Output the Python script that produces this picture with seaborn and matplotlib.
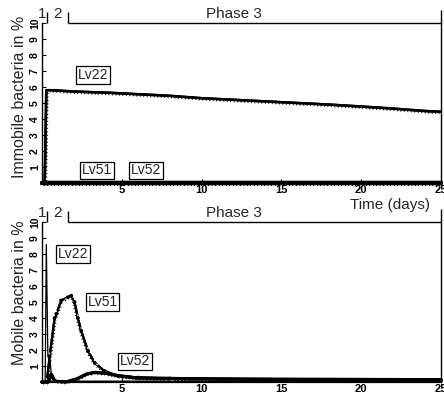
import matplotlib
matplotlib.use("Agg")
import matplotlib.pyplot as plt
import matplotlib.patheffects as pe
import seaborn as sns
import pandas as pd

# ---------------- data ----------------
# Top panel: immobile bacteria (%)
t_imm_22 = [0, 0.17, 0.27, 0.5, 1.0, 1.4, 2, 3, 4, 5, 6, 7, 8, 10, 12, 14, 16, 18, 20, 22, 24, 25]
imm_22 = [0, 0, 5.8, 5.8, 5.78, 5.75, 5.72, 5.68, 5.65, 5.6, 5.55, 5.5, 5.45, 5.3, 5.2, 5.1, 5.0, 4.9, 4.78, 4.65, 4.5, 4.45]
t_imm_51 = [0, 5, 10, 15, 20, 25]
imm_51 = [0, 0, 0, 0, 0, 0]
t_imm_52 = [0, 5, 10, 15, 20, 25]
imm_52 = [0, 0, 0, 0, 0, 0]

# Bottom panel: mobile bacteria (%)
t_mob_22 = [0, 0.2, 0.27, 0.37, 0.5, 0.6, 0.8, 1.5, 5, 10, 25]
mob_22 = [0, 0, 8.6, 1.5, 1.4, 0.3, 0.1, 0.05, 0.05, 0.05, 0.05]
t_mob_51 = [0, 0.3, 0.48, 0.79, 0.9, 1.2, 1.63, 1.83, 2.04, 2.25, 2.46, 2.88, 3.3, 3.9, 4.75, 6, 8, 10, 15, 20, 25]
mob_51 = [0, 0, 1.6, 4.0, 4.25, 5.1, 5.3, 5.4, 5.0, 4.0, 3.2, 1.95, 1.2, 0.7, 0.38, 0.28, 0.22, 0.2, 0.15, 0.12, 0.1]
t_mob_52 = [0, 0.4, 0.58, 0.8, 1.5, 2.2, 2.8, 3.3, 4.0, 4.75, 6, 10, 15, 25]
mob_52 = [0, 0, 0.5, 0.05, 0.0, 0.2, 0.5, 0.6, 0.55, 0.4, 0.25, 0.2, 0.17, 0.15]

phase_bounds = [0.33, 1.65]
phase_label_x = [0.0, 0.95]
phase_labels = ["1", "2"]
xticks = [5, 10, 15, 20, 25]
xtick_labels = ["5", "10", "15", "20", "25"]
yticks = [1, 2, 3, 4, 5, 6, 7, 8, 9, 10]
ytick_labels = ["1", "2", "3", "4", "5", "6", "7", "8", "9", "10"]

# ---------------- plotting ----------------
sns.set_theme(style="white")
plt.rcParams["font.family"] = ["Liberation Sans", "DejaVu Sans"]

fig = plt.figure(figsize=(4.44, 3.93), dpi=100)
ax_top = fig.add_axes([0.0946, 0.5344, 0.8984, 0.4071])
ax_bot = fig.add_axes([0.0946, 0.028, 0.8984, 0.407])

ticked = [pe.withTickedStroke(angle=-90, spacing=2.5, length=0.6, linewidth=0.7)]


def draw(ax, t, y, lw, ticks=True, marker=None):
    df = pd.DataFrame({"t": t, "v": y})
    sns.lineplot(data=df, x="t", y="v", ax=ax, color="black", lw=lw,
                 estimator=None, sort=False, marker=marker, markersize=2.5,
                 markeredgewidth=0)
    line = ax.lines[-1]
    if ticks:
        line.set_path_effects(ticked + [pe.Normal()])
    line.set_clip_on(False)


# top panel
draw(ax_top, t_imm_22, imm_22, 1.8)
draw(ax_top, t_imm_51, imm_51, 3.0)
draw(ax_top, t_imm_52, imm_52, 3.0)

# bottom panel
draw(ax_bot, t_mob_22, mob_22, 0.9, ticks=False)
draw(ax_bot, t_mob_51, mob_51, 1.6, marker="o")
draw(ax_bot, t_mob_52, mob_52, 2.2)

box = dict(boxstyle="square,pad=0.12", fc="white", ec="black", lw=0.9)
label_fs = 10

ax_top.text(3.2, 6.75, "Lv22", ha="center", va="center", fontsize=label_fs, bbox=box)
ax_top.text(3.45, 0.8, "Lv51", ha="center", va="center", fontsize=label_fs, bbox=box)
ax_top.text(6.5, 0.8, "Lv52", ha="center", va="center", fontsize=label_fs, bbox=box)

ax_bot.text(1.95, 8.0, "Lv22", ha="center", va="center", fontsize=label_fs, bbox=box)
ax_bot.text(3.8, 5.0, "Lv51", ha="center", va="center", fontsize=label_fs, bbox=box)
ax_bot.text(5.85, 1.3, "Lv52", ha="center", va="center", fontsize=label_fs, bbox=box)

for ax, ylab, ly in [(ax_top, "Immobile bacteria in %", 0.54),
                     (ax_bot, "Mobile bacteria in %", 0.556)]:
    ax.set_xlim(0, 25)
    ax.set_ylim(0, 10)
    ax.set_xticks(xticks)
    ax.set_xticklabels(xtick_labels, fontsize=8, fontweight="bold")
    ax.set_yticks(yticks)
    ax.set_yticklabels(ytick_labels, fontsize=7.5, fontweight="bold", rotation=90, va="center")
    ax.tick_params(axis="both", direction="in", length=3, width=0.8, pad=1.5,
                   colors="black", left=True, bottom=True)
    ax.set_xlabel("")
    ax.set_ylabel(ylab, fontsize=11.5, labelpad=2)
    ax.yaxis.set_label_coords(-0.038, ly)
    for s in ["left", "bottom", "right"]:
        ax.spines[s].set_visible(True)
        ax.spines[s].set_color("black")
        ax.spines[s].set_linewidth(1.0)
    ax.spines["top"].set_visible(False)
    ax.spines["bottom"].set_linewidth(1.6)
    # phase bar on top
    ax.hlines(10, phase_bounds[1], 25, color="black", lw=1.0, clip_on=False)
    ax.vlines(phase_bounds, 10, 10.7, color="black", lw=1.0, clip_on=False)
    ax.vlines(25, 10, 10.8, color="black", lw=1.0, clip_on=False)
    for x, s in zip(phase_label_x, phase_labels):
        ax.text(x, 10.1, s, ha="center", va="bottom", fontsize=11)
    ax.text(12, 10.1, "Phase 3", ha="center", va="bottom", fontsize=11)
    ax.set_facecolor("white")

fig.text(0.968, 0.478, "Time (days)", ha="right", va="center", fontsize=11)

fig.savefig("out.png", dpi=100, facecolor="white")
